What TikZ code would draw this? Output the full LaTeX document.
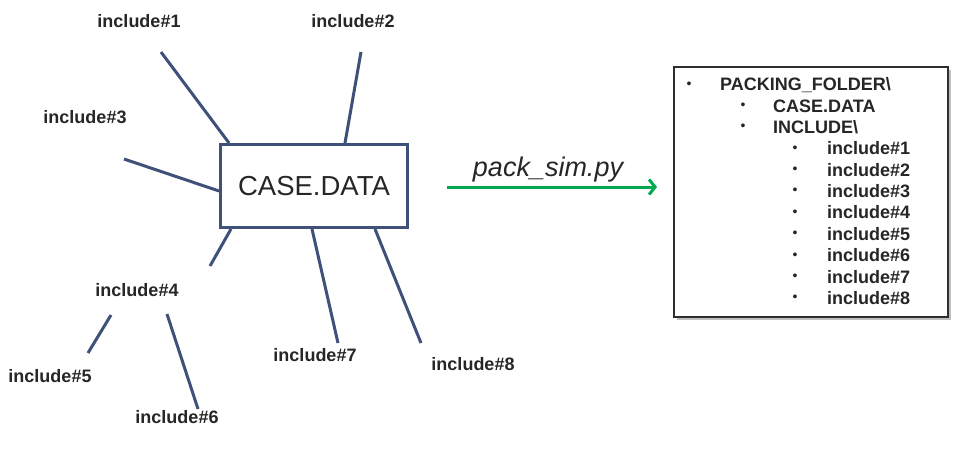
\documentclass[tikz,border=0pt]{standalone}
\usepackage{fontspec}
\setmainfont{Liberation Sans}
\usetikzlibrary{arrows.meta,shadows}
\definecolor{linkblue}{RGB}{63,81,121}
\definecolor{packgreen}{RGB}{0,168,80}
\definecolor{inkgray}{RGB}{38,38,38}
\begin{document}
\begin{tikzpicture}[x=1pt,y=-1pt,
  inc/.style={font=\fontsize{18}{20}\selectfont\bfseries, text=inkgray, inner sep=0pt, text height=12.5pt, text depth=0pt},
  link/.style={draw=linkblue, line width=3pt},
  item/.style={inc, anchor=west},
  dot/.style={font=\fontsize{14}{16}\selectfont, text=inkgray, inner sep=0pt}]
\useasboundingbox (0,0) rectangle (964,448);

\node[draw=linkblue, line width=3pt, minimum width=187pt, minimum height=83pt, inner sep=0pt,
  font=\fontsize{27.5}{30}\selectfont, text=inkgray] (case) at (314,186) {CASE.DATA};

\node[inc] (inc1) at (139,21) {include\#1};
\node[inc] (inc2) at (353,21) {include\#2};
\node[inc] (inc3) at (85,117) {include\#3};
\node[inc] (inc4) at (137,290) {include\#4};
\node[inc] (inc5) at (50,376) {include\#5};
\node[inc] (inc6) at (177,417) {include\#6};
\node[inc] (inc7) at (315,355) {include\#7};
\node[inc] (inc8) at (473,364) {include\#8};

\coordinate (e1) at (161,52);
\coordinate (e2) at (361,52);
\coordinate (e3) at (124,159);
\coordinate (e4) at (210,266);
\coordinate (e5a) at (111,315);
\coordinate (e5b) at (88,353);
\coordinate (e6a) at (167,314);
\coordinate (e6b) at (198,409);
\coordinate (e7) at (338,343);
\coordinate (e8) at (421,343);

\draw[link] ([xshift=10pt]case.north west) -- (e1);
\draw[link] ([xshift=31pt]case.north) -- (e2);
\draw[link] ([yshift=-5pt]case.west) -- (e3);
\draw[link] ([xshift=12pt]case.south west) -- (e4);
\draw[link] (e5a) -- (e5b);
\draw[link] (e6a) -- (e6b);
\draw[link] ([xshift=-2pt]case.south) -- (e7);
\draw[link] ([xshift=61pt]case.south) -- (e8);

\coordinate (a0) at (447,187);
\coordinate (a1) at (657,187);
\draw[draw=packgreen, line width=3pt, -{Straight Barb[length=6pt,width=15pt]}] (a0) -- (a1);
\node[anchor=base, font=\fontsize{27}{30}\selectfont\itshape, text=inkgray, inner sep=0pt] (script) at (548,176) {pack\_sim.py};

\node[draw=black!82, line width=2.5pt, fill=white, minimum width=274pt, minimum height=250pt,
  drop shadow={shadow xshift=3pt, shadow yshift=-3pt, opacity=0.5}] (tree) at (811,192) {};

\node[dot] at (689,85) {•};
\node[item] (folder) at (720,84.5) {PACKING\_FOLDER\textbackslash};
\node[dot] at (743,106.5) {•};
\node[item] (data) at (773,106) {CASE.DATA};
\node[dot] at (743,127.5) {•};
\node[item] (incdir) at (773,127) {INCLUDE\textbackslash};
\foreach \k in {1,...,8} {
  \node[dot] at (795,127.5+21.4*\k) {•};
  \node[item] (t\k) at (827,127+21.4*\k) {include\#\k};
}
\end{tikzpicture}
\end{document}
